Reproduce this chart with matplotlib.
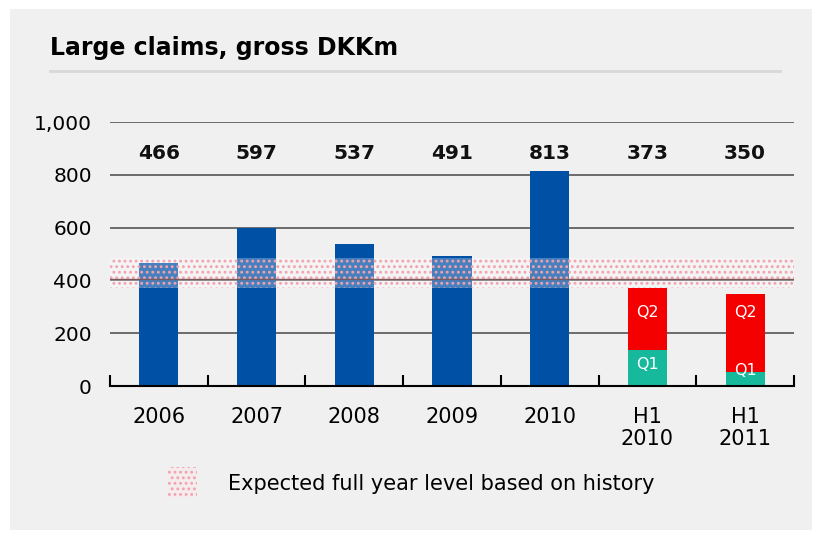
import matplotlib.pyplot as plt
import matplotlib.patches as mpatch

plt.rcParams["hatch.linewidth"] = 1.3

categories = ["2006", "2007", "2008", "2009", "2010", "H1\n2010", "H1\n2011"]
full_year = [466, 597, 537, 491, 813]
q1 = [136, 53]
q2 = [237, 297]
totals = [466, 597, 537, 491, 813, 373, 350]
band_low, band_high, band_mid = 370, 485, 405

fig = plt.figure(figsize=(8.17, 5.38), dpi=100)
fig.patch.set_facecolor("white")
fig.patches.append(mpatch.Rectangle((10 / 817, 8 / 538), 802 / 817, 521 / 538,
                                    transform=fig.transFigure, fc="#f0f0f0", ec="none", zorder=-5))

ax = fig.add_axes([110 / 817, 1 - 386 / 538, 684 / 817, 264 / 538])
ax.set_facecolor("none")

x = list(range(len(categories)))
ax.bar(x[:5], full_year, width=0.4, color="#0050a5", zorder=2)
ax.bar(x[5:], q1, width=0.4, color="#17b99d", zorder=2)
ax.bar(x[5:], q2, width=0.4, bottom=q1, color="#f50000", zorder=2)

for i in range(2):
    ax.text(x[5 + i], max(q1[i] * 0.6, 60), "Q1", color="white",
            ha="center", va="center", fontsize=11.5, zorder=4)
    ax.text(x[5 + i], 280, "Q2", color="white",
            ha="center", va="center", fontsize=11.5, zorder=4)

ax.axhspan(band_low, band_high, facecolor=(1, 1, 1, 0.28), edgecolor="#f2a2b0",
           hatch="...", linewidth=0, zorder=3)
ax.axhline(band_mid, color="#7a5a5a", linewidth=1.0, zorder=3)

for i, t in enumerate(totals):
    ax.text(x[i], 880, str(t), ha="center", va="center", fontsize=14.5,
            fontweight="bold", color="#111111")

ax.set_xlim(-0.5, 6.5)
ax.set_ylim(0, 1000)
ax.set_yticks([0, 200, 400, 600, 800, 1000])
ax.set_yticklabels(["0", "200", "400", "600", "800", "1,000"], fontsize=14.5)
ax.yaxis.grid(True, color="#555555", linewidth=1.2, zorder=1)
ax.tick_params(axis="y", length=0, pad=13)
ax.set_xticks([i - 0.5 for i in range(8)])
ax.set_xticklabels([])
ax.set_xticks(x, minor=True)
ax.set_xticklabels(categories, minor=True, fontsize=15, linespacing=1.15)
ax.tick_params(axis="x", which="major", direction="in", length=8, width=1.5, color="black")
ax.tick_params(axis="x", which="minor", length=0, pad=15)
for s in ["left", "right", "top"]:
    ax.spines[s].set_visible(False)
ax.spines["bottom"].set_linewidth(1.5)
ax.set_axisbelow(True)

fig.text(50 / 817, 1 - 48 / 538, "Large claims, gross DKKm", fontsize=17,
         fontweight="bold", va="center", ha="left")
fig.add_artist(plt.Line2D([50 / 817, 780 / 817], [1 - 71 / 538, 1 - 71 / 538],
                          color="#d8d8d8", linewidth=2))

fig.patches.append(mpatch.Rectangle((168 / 817, 1 - 498 / 538), 29 / 817, 31 / 538,
                                    transform=fig.transFigure, fc="#f5eded", ec="#f2a2b0",
                                    hatch="...", linewidth=0))
fig.text(228 / 817, 1 - 484 / 538, "Expected full year level based on history",
         fontsize=15, va="center", ha="left")

fig.savefig("out.png", dpi=100)
